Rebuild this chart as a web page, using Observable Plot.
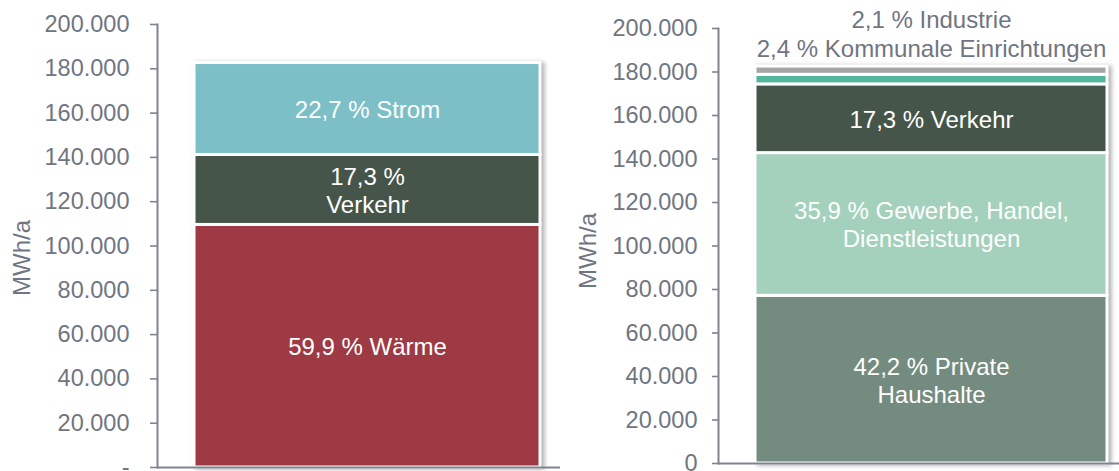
<!DOCTYPE html>
<html>
<head>
<meta charset="utf-8">
<script src="https://cdn.jsdelivr.net/npm/d3@7"></script>
<script src="https://cdn.jsdelivr.net/npm/@observablehq/plot@0.6"></script>
<style>
  html, body { margin: 0; padding: 0; background: #fff; }
  #wrap { display: flex; width: 1119px; height: 471px; }
</style>
</head>
<body>
<div id="wrap"></div>
<script>
// ---- Data (MWh/a) ----
const leftCategories = ["Wärme", "Verkehr", "Strom"];
const leftValues = [109500, 31600, 41500];
const leftLabels = ["59,9 % Wärme", "17,3 %\nVerkehr", "22,7 % Strom"];

const rightCategories = ["Private Haushalte", "Gewerbe, Handel, Dienstleistungen", "Verkehr", "Kommunale Einrichtungen", "Industrie"];
const rightValues = [77100, 65600, 31600, 4400, 3800];
const rightLabels = ["42,2 % Private\nHaushalte", "35,9 % Gewerbe, Handel,\nDienstleistungen", "17,3 % Verkehr", "", ""];
const rightTopLabel = "2,1 % Industrie\n2,4 % Kommunale Einrichtungen";

const yTicks = [0, 20000, 40000, 60000, 80000, 100000, 120000, 140000, 160000, 180000, 200000];
const leftTickLabels = ["-", "20.000", "40.000", "60.000", "80.000", "100.000", "120.000", "140.000", "160.000", "180.000", "200.000"];
const rightTickLabels = ["0", "20.000", "40.000", "60.000", "80.000", "100.000", "120.000", "140.000", "160.000", "180.000", "200.000"];
const yLabel = "MWh/a";

// ---- Styles ----
const leftColors = ["#9E3A43", "#465549", "#7CBFC7"];
const rightColors = ["#748C7F", "#A3D1BC", "#465549", "#52B69D", "#A5A5A5"];
const grey = "#6F7581";
const axisGrey = "#7F848F";
const font = "'Liberation Sans', Arial, sans-serif";

function panel(opts) {
  const {categories, values, labels, colors, tickLabels, width, marginLeft, marginTop, marginBottom,
         insetLeft, insetRight, tickSize, tickPadding, yLabelDx, yLabelDy, topLabel} = opts;
  const data = categories.map((c, i) => ({sector: "Sektor", category: c, value: values[i], label: labels[i]}));
  const total = d3.sum(values);
  const dxCenter = (insetLeft - insetRight) / 2;
  const marks = [
    Plot.barY(data, {x: "sector", y: "value", fill: "category", stroke: "white", strokeWidth: 3,
                     insetLeft, insetRight}),
    Plot.text(data, Plot.stackY({x: "sector", y: "value", text: "label", fill: "white",
                                 fontSize: 24, lineHeight: 1.17, dx: dxCenter})),
    Plot.ruleY([0], {stroke: axisGrey, strokeWidth: 2}),
    Plot.frame({anchor: "left", stroke: axisGrey, strokeWidth: 2}),
    Plot.axisY(yTicks, {tickSize, tickPadding, tickFormat: (d, i) => tickLabels[i],
                        stroke: axisGrey, strokeWidth: 1.6, fill: grey, fontSize: 23.5, label: null}),
    Plot.text([yLabel], {frameAnchor: "left", textAnchor: "middle", rotate: -90, dx: yLabelDx, dy: yLabelDy,
                         fill: grey, fontSize: 24})
  ];
  if (topLabel) {
    marks.push(Plot.text([{sector: "Sektor", total, t: topLabel}],
      {x: "sector", y: "total", text: "t", lineAnchor: "bottom", dy: -10, dx: dxCenter,
       fill: grey, fontSize: 24, lineHeight: 1.17}));
  }
  const chart = Plot.plot({
    width, height: 471, marginLeft, marginRight: 0, marginTop, marginBottom,
    style: {fontFamily: font, fontSize: "24px", color: grey, background: "white", overflow: "visible"},
    x: {type: "band", domain: ["Sektor"], padding: 0, axis: null},
    y: {domain: [0, 200000], axis: null},
    color: {domain: categories, range: colors},
    marks
  });
  const bars = chart.querySelector('g[aria-label="bar"]');
  if (bars) bars.style.filter = "drop-shadow(3px 1px 2px rgba(0,0,0,0.3))";
  return chart;
}

const wrap = document.getElementById("wrap");
wrap.append(panel({
  categories: leftCategories, values: leftValues, labels: leftLabels, colors: leftColors,
  tickLabels: leftTickLabels, width: 560, marginLeft: 157, marginTop: 24, marginBottom: 4,
  insetLeft: 37, insetRight: 20, tickSize: 7, tickPadding: 21, yLabelDx: -135, yLabelDy: 12
}));
wrap.append(panel({
  categories: rightCategories, values: rightValues, labels: rightLabels, colors: rightColors,
  tickLabels: rightTickLabels, width: 559, marginLeft: 158, marginTop: 28, marginBottom: 8,
  insetLeft: 37, insetRight: 12, tickSize: 6, tickPadding: 15, yLabelDx: -130, yLabelDy: 5,
  topLabel: rightTopLabel
}));
</script>
</body>
</html>
